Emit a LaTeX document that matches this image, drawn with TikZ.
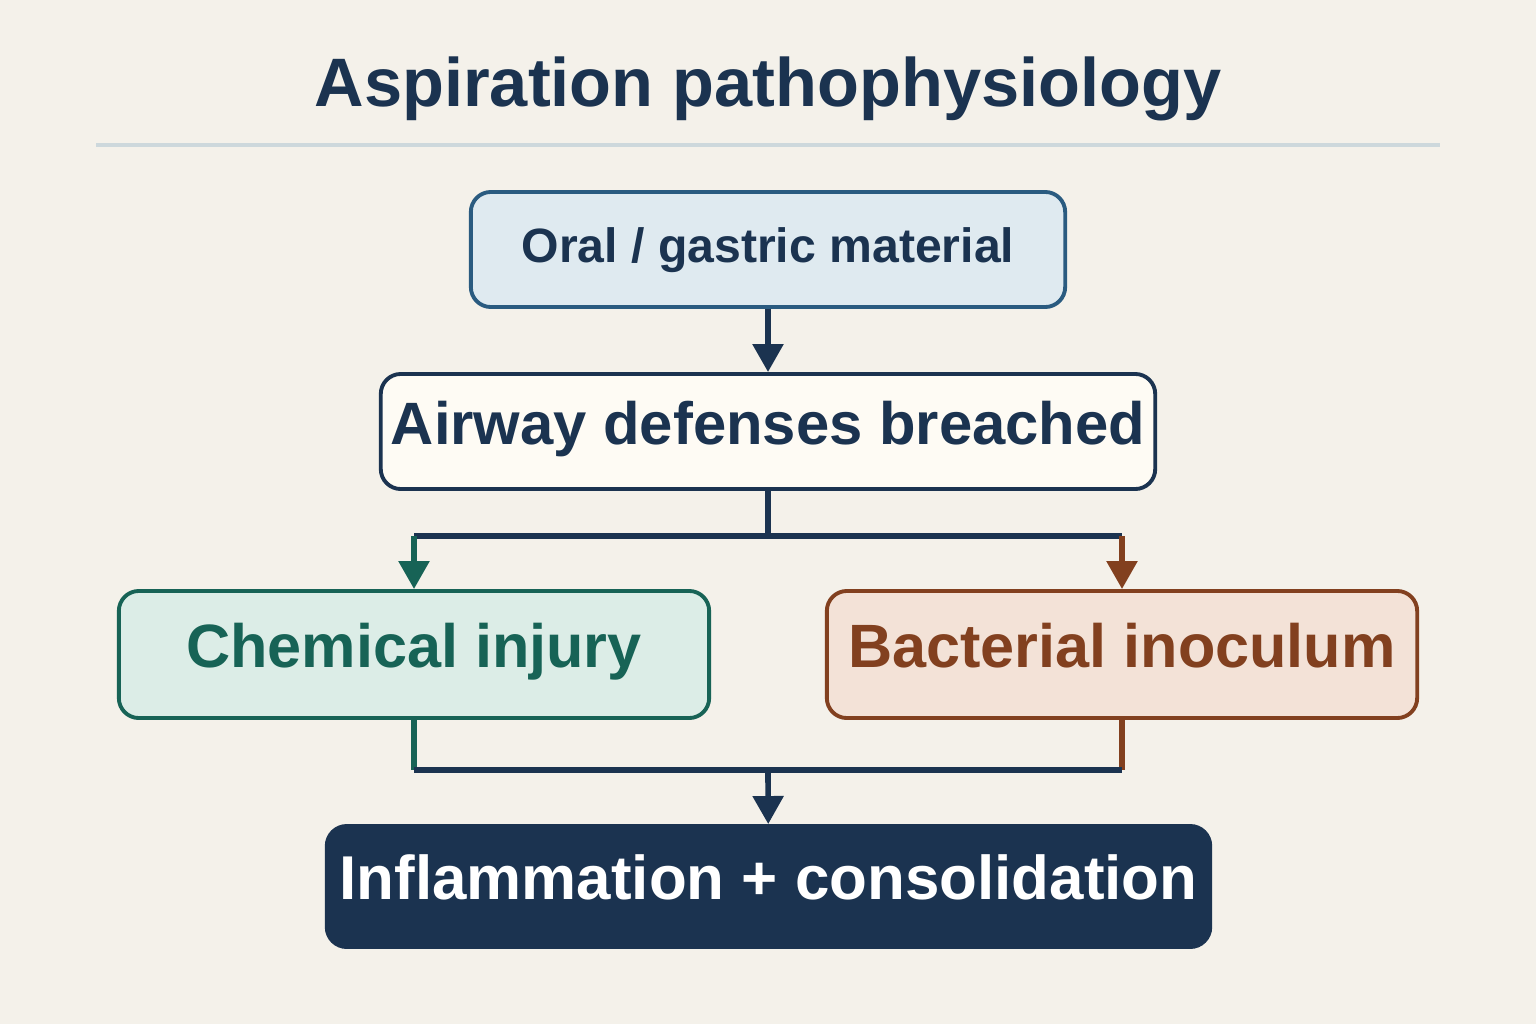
\documentclass[tikz,border=0pt]{standalone}
\usepackage{fontspec}
\setmainfont{Liberation Sans}
\usetikzlibrary{arrows.meta}
\definecolor{navy}{HTML}{1B3350}
\definecolor{bg}{HTML}{F4F1EA}
\definecolor{teal}{HTML}{176356}
\definecolor{rust}{HTML}{82401F}
\definecolor{oralline}{HTML}{2A5B80}
\definecolor{oralfill}{HTML}{DFEAF0}
\definecolor{airfill}{HTML}{FEFBF4}
\definecolor{chemfill}{HTML}{DCEDE7}
\definecolor{bactfill}{HTML}{F3E2D7}
\definecolor{rule}{HTML}{CDD8DC}
\begin{document}
\begin{tikzpicture}[x=0.01cm,y=-0.01cm,
  box/.style={draw,line width=1.1pt,rounded corners=0.2cm,inner sep=0pt,text height=0.72em,text depth=0pt},
  link/.style={line width=1.6pt},
  tip/.style={-{Triangle[length=0.28cm,width=0.3cm]}}]
\fill[bg] (0,0) rectangle (1536,1024);
\node[text=navy,font=\bfseries\fontsize{19.5}{22}\selectfont] (title) at (768,89) {Aspiration pathophysiology};
\draw[color=rule,line width=1.2pt] (96,145) -- (1440,145);
\node[box,draw=oralline,fill=oralfill,text=navy,minimum width=5.94cm,minimum height=1.15cm,font=\bfseries\fontsize{13.7}{16}\selectfont] (oral) at (768,249.5) {Oral / gastric material};
\node[box,draw=navy,fill=airfill,text=navy,minimum width=7.74cm,minimum height=1.15cm,font=\bfseries\fontsize{17}{19}\selectfont] (airway) at (768,431.5) {Airway defenses breached};
\node[box,draw=teal,fill=chemfill,text=teal,minimum width=5.9cm,minimum height=1.27cm,font=\bfseries\fontsize{17.4}{20}\selectfont] (chem) at (414,654.5) {Chemical injury};
\node[box,draw=rust,fill=bactfill,text=rust,minimum width=5.9cm,minimum height=1.27cm,font=\bfseries\fontsize{17.4}{20}\selectfont] (bact) at (1122,654.5) {Bacterial inoculum};
\node[box,draw=navy,fill=navy,text=white,minimum width=8.83cm,minimum height=1.21cm,font=\bfseries\fontsize{17.6}{20}\selectfont] (infl) at (768.5,886.5) {Inflammation + consolidation};
\coordinate (split) at (768,536);
\coordinate (join) at (768,770);
\draw[link,navy,tip] (oral) -- (airway);
\draw[link,navy] (airway) -- (split);
\draw[link,navy] (chem.north |- split) -- (bact.north |- split);
\draw[link,teal,tip] (chem.north |- split) -- (chem.north);
\draw[link,rust,tip] (bact.north |- split) -- (bact.north);
\draw[link,teal] (chem) -- (chem.south |- join);
\draw[link,rust] (bact) -- (bact.south |- join);
\draw[link,navy] (chem.south |- join) -- (bact.south |- join);
\draw[link,navy,tip] (join) -- (infl);
\end{tikzpicture}
\end{document}
